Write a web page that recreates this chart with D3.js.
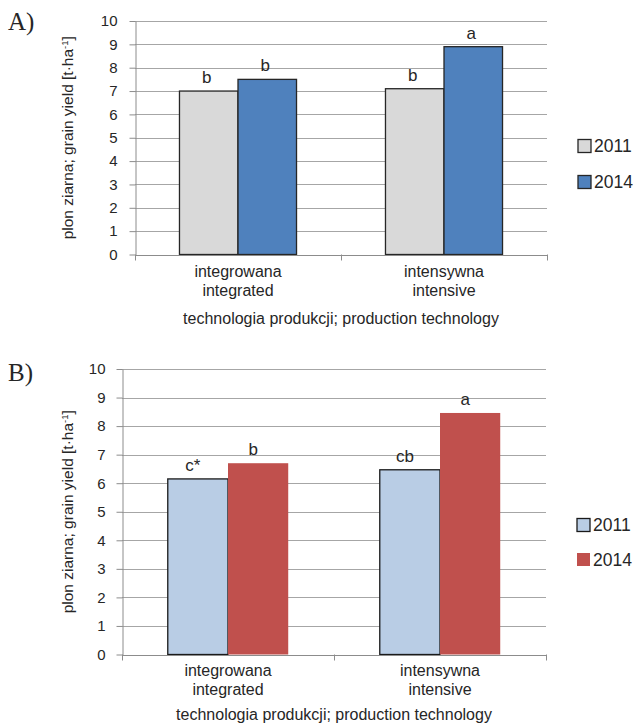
<!DOCTYPE html>
<html>
<head>
<meta charset="utf-8">
<script src="https://cdn.jsdelivr.net/npm/d3@7"></script>
<style>
  html, body { margin: 0; padding: 0; background: #fff; }
  svg { display: block; }
  text { font-family: "Liberation Sans", Arial, sans-serif; fill: #262626; }
</style>
</head>
<body>
<svg id="chart" width="637" height="725"></svg>
<script>
// ---- data ----
const categoriesPl = ["integrowana", "intensywna"];
const categoriesEn = ["integrated", "intensive"];
const years = ["2011", "2014"];
const yTicks = [0, 1, 2, 3, 4, 5, 6, 7, 8, 9, 10];

const yieldA2011 = [7.0, 7.1];
const yieldA2014 = [7.5, 8.9];
const lettersA2011 = ["b", "b"];
const lettersA2014 = ["b", "a"];

const yieldB2011 = [6.15, 6.47];
const yieldB2014 = [6.7, 8.46];
const lettersB2011 = ["c*", "cb"];
const lettersB2014 = ["b", "a"];

const xTitle = "technologia produkcji; production technology";

// ---- drawing ----
const svg = d3.select("#chart");

function panel(cfg) {
  const g = svg.append("g");
  const x0 = d3.scaleBand().domain(categoriesPl).range([cfg.left, cfg.right]).paddingInner(0).paddingOuter(0);
  const x1 = d3.scaleBand().domain(years).range([0, x0.bandwidth()]).paddingInner(0).paddingOuter(0.76);
  const y = d3.scaleLinear().domain([0, 10]).range([cfg.bottom, cfg.top]);

  // gridlines
  g.append("g").selectAll("line").data(yTicks.filter(d => d > 0)).join("line")
    .attr("x1", cfg.left).attr("x2", cfg.right)
    .attr("y1", d => Math.round(y(d)) + 0.5).attr("y2", d => Math.round(y(d)) + 0.5)
    .attr("stroke", "#a6a6a6").attr("stroke-width", 1);

  // bars
  const series = [
    { year: years[0], values: cfg.v2011, letters: cfg.l2011, fill: cfg.fill2011, stroke: cfg.stroke2011 },
    { year: years[1], values: cfg.v2014, letters: cfg.l2014, fill: cfg.fill2014, stroke: cfg.stroke2014 }
  ];
  series.forEach(s => {
    const data = categoriesPl.map((c, i) => ({ c, v: s.values[i], l: s.letters[i] }));
    g.append("g").selectAll("rect").data(data).join("rect")
      .attr("x", d => x0(d.c) + x1(s.year))
      .attr("y", d => y(d.v))
      .attr("width", x1.bandwidth())
      .attr("height", d => y(0) - y(d.v))
      .attr("fill", s.fill)
      .attr("stroke", s.stroke)
      .attr("stroke-width", s.stroke === "none" ? 0 : 1.3);
    g.append("g").selectAll("text").data(data).join("text")
      .attr("x", d => x0(d.c) + x1(s.year) + x1.bandwidth() / 2 + cfg.letterDx)
      .attr("y", d => y(d.v) - 8)
      .attr("text-anchor", "middle")
      .attr("font-size", 17)
      .text(d => d.l);
  });

  // y axis
  const ya = g.append("g").attr("transform", `translate(${cfg.left + 0.5},0)`)
    .call(d3.axisLeft(y).tickValues(yTicks).tickSize(6).tickPadding(cfg.tickPad).tickSizeOuter(0));
  ya.select(".domain").attr("stroke", "#8c8c8c");
  ya.selectAll(".tick line").attr("stroke", "#8c8c8c");
  ya.selectAll(".tick text").attr("font-size", 15).attr("font-family", "Liberation Sans, Arial, sans-serif").attr("fill", "#262626");

  // x axis line and category dividers
  const xa = g.append("g");
  xa.append("line").attr("x1", cfg.left).attr("x2", cfg.right)
    .attr("y1", Math.round(y(0)) + 0.5).attr("y2", Math.round(y(0)) + 0.5)
    .attr("stroke", "#8c8c8c");
  const edges = categoriesPl.map(c => x0(c)).concat([x0.range()[1]]);
  xa.selectAll("line.div").data(edges).join("line").attr("class", "div")
    .attr("x1", d => Math.round(d) + 0.5).attr("x2", d => Math.round(d) + 0.5)
    .attr("y1", y(0)).attr("y2", y(0) + 6).attr("stroke", "#8c8c8c");

  // category labels
  categoriesPl.forEach((c, i) => {
    const cx = x0(c) + x0.bandwidth() / 2;
    g.append("text").attr("x", cx).attr("y", y(0) + cfg.catOff[0]).attr("dy", "0.35em")
      .attr("text-anchor", "middle").attr("font-size", 16).text(c);
    g.append("text").attr("x", cx).attr("y", y(0) + cfg.catOff[1]).attr("dy", "0.35em")
      .attr("text-anchor", "middle").attr("font-size", 16).text(categoriesEn[i]);
  });
  g.append("text").attr("x", (cfg.left + cfg.right) / 2).attr("y", y(0) + cfg.catOff[2]).attr("dy", "0.35em")
    .attr("text-anchor", "middle").attr("font-size", 16).text(xTitle);

  // y title
  const yt = g.append("text")
    .attr("transform", `translate(${cfg.yTitleX},${(cfg.top + cfg.bottom) / 2}) rotate(-90)`)
    .attr("text-anchor", "middle").attr("dy", "0.35em").attr("font-size", 15.5);
  yt.append("tspan").text("plon ziarna; grain yield [t·ha");
  yt.append("tspan").attr("font-size", 9.5).attr("baseline-shift", "super").text("-1");
  yt.append("tspan").text("]");

  // legend
  series.forEach((s, i) => {
    const ly = cfg.legendY[i];
    g.append("rect").attr("x", cfg.legendX).attr("y", ly - 6.5).attr("width", 13).attr("height", 13)
      .attr("fill", s.fill)
      .attr("stroke", s.stroke).attr("stroke-width", s.stroke === "none" ? 0 : 1.3);
    g.append("text").attr("x", cfg.legendX + 16).attr("y", ly).attr("dy", "0.35em")
      .attr("font-size", 17.5).text(s.year);
  });

  // panel label
  svg.append("text").attr("x", 8).attr("y", cfg.labelY).attr("dy", "0.35em")
    .attr("font-size", 25)
    .style("font-family", "'Liberation Serif', 'Times New Roman', serif")
    .text(cfg.label);
}

panel({
  label: "A)", labelY: 21,
  left: 135, right: 547, top: 21, bottom: 254.5,
  v2011: yieldA2011, v2014: yieldA2014, l2011: lettersA2011, l2014: lettersA2014,
  fill2011: "#d9d9d9", stroke2011: "#262626",
  fill2014: "#4f81bd", stroke2014: "#262626",
  tickPad: 12, yTitleX: 68, letterDx: -2,
  catOff: [16.5, 35.5, 64],
  legendX: 578, legendY: [146, 182]
});

panel({
  label: "B)", labelY: 372,
  left: 122, right: 546, top: 369, bottom: 654.5,
  v2011: yieldB2011, v2014: yieldB2014, l2011: lettersB2011, l2014: lettersB2014,
  fill2011: "#b9cde5", stroke2011: "#1a1a1a",
  fill2014: "#c0504d", stroke2014: "none",
  tickPad: 11, yTitleX: 68, letterDx: -5,
  catOff: [15.5, 34.5, 59.5],
  legendX: 577, legendY: [525, 559.5]
});
</script>
</body>
</html>
